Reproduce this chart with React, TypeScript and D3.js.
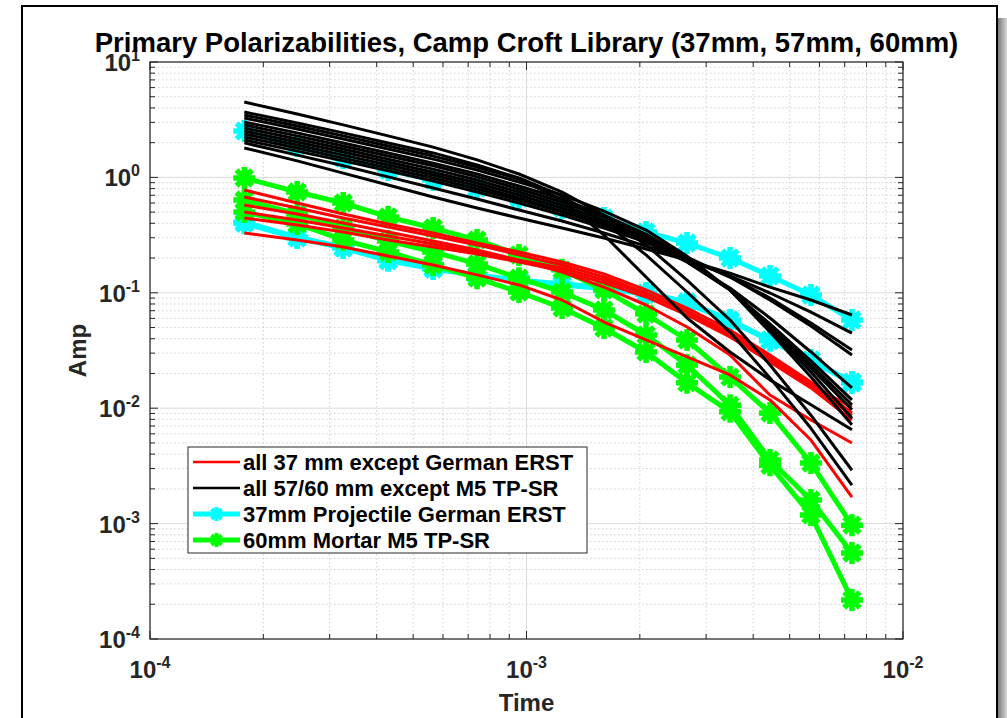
import React from 'react';
import * as d3 from 'd3';

// Time gates (s)
const timeGates = [1.78e-4, 2.46e-4, 3.26e-4, 4.29e-4, 5.65e-4, 7.39e-4, 9.55e-4, 1.243e-3, 1.606e-3, 2.077e-3, 2.669e-3, 3.472e-3, 4.433e-3, 5.695e-3, 7.318e-3];

// all 37 mm except German ERST (red)
const red37mm: number[][] = [
  [0.778, 0.600, 0.482, 0.395, 0.330, 0.270, 0.226, 0.185, 0.146, 0.106, 0.0738, 0.0476, 0.0289, 0.0169, 0.0091],
  [0.676, 0.543, 0.445, 0.372, 0.311, 0.260, 0.213, 0.174, 0.137, 0.0996, 0.0695, 0.0448, 0.0272, 0.0159, 0.0087],
  [0.501, 0.427, 0.364, 0.311, 0.265, 0.226, 0.192, 0.164, 0.129, 0.0976, 0.0682, 0.0431, 0.0262, 0.0159, 0.0102],
  [0.445, 0.387, 0.336, 0.287, 0.249, 0.217, 0.185, 0.155, 0.122, 0.092, 0.0642, 0.0414, 0.0251, 0.0150, 0.0079],
  [0.576, 0.482, 0.403, 0.336, 0.281, 0.235, 0.192, 0.151, 0.112, 0.0784, 0.0505, 0.0289, 0.013, 0.0079, 0.005],
  [0.330, 0.287, 0.249, 0.208, 0.174, 0.143, 0.117, 0.0866, 0.0558, 0.039, 0.0278, 0.0194, 0.0118, 0.0053, 0.0017],
];

// all 57/60 mm except M5 TP-SR (black)
const black5760mm: number[][] = [
  [4.50, 3.54, 2.85, 2.29, 1.83, 1.42, 1.07, 0.747, 0.472, 0.260, 0.129, 0.0581, 0.0237, 0.0087, 0.0029],
  [3.69, 2.96, 2.43, 1.99, 1.63, 1.28, 0.988, 0.690, 0.411, 0.213, 0.1016, 0.0457, 0.0183, 0.0067, 0.00216],
  [3.47, 2.79, 2.29, 1.87, 1.53, 1.23, 0.969, 0.637, 0.317, 0.137, 0.0605, 0.0307, 0.0176, 0.0107, 0.0065],
  [3.27, 2.63, 2.15, 1.76, 1.44, 1.16, 0.912, 0.704, 0.511, 0.350, 0.208, 0.106, 0.0457, 0.0186, 0.0072],
  [3.02, 2.43, 1.99, 1.63, 1.33, 1.07, 0.842, 0.650, 0.472, 0.323, 0.200, 0.106, 0.0476, 0.0206, 0.0082],
  [2.85, 2.29, 1.87, 1.53, 1.26, 1.01, 0.793, 0.612, 0.454, 0.311, 0.192, 0.106, 0.0495, 0.0223, 0.0097],
  [2.68, 2.15, 1.76, 1.44, 1.18, 0.949, 0.747, 0.576, 0.427, 0.298, 0.189, 0.106, 0.0516, 0.0237, 0.0107],
  [2.52, 2.03, 1.66, 1.36, 1.11, 0.894, 0.704, 0.543, 0.403, 0.287, 0.185, 0.106, 0.0537, 0.0257, 0.0118],
  [2.38, 1.91, 1.56, 1.28, 1.05, 0.842, 0.663, 0.511, 0.387, 0.275, 0.185, 0.110, 0.0605, 0.0307, 0.0150],
  [2.24, 1.80, 1.47, 1.21, 0.988, 0.793, 0.637, 0.501, 0.387, 0.287, 0.204, 0.137, 0.0866, 0.0516, 0.0289],
  [2.11, 1.69, 1.39, 1.14, 0.931, 0.747, 0.600, 0.472, 0.364, 0.275, 0.200, 0.137, 0.0902, 0.0547, 0.0319],
  [1.99, 1.56, 1.26, 1.01, 0.809, 0.650, 0.522, 0.419, 0.330, 0.254, 0.192, 0.140, 0.0996, 0.068, 0.0448],
  [1.80, 1.39, 1.09, 0.859, 0.676, 0.543, 0.445, 0.364, 0.298, 0.240, 0.192, 0.148, 0.112, 0.0866, 0.0642],
];

// 37mm Projectile German ERST (cyan)
const cyanERST: number[][] = [
  [2.52, 1.87, 1.47, 1.16, 0.95, 0.81, 0.663, 0.543, 0.445, 0.336, 0.27, 0.2, 0.14, 0.0957, 0.0581],
  [0.411, 0.304, 0.249, 0.192, 0.164, 0.143, 0.129, 0.119, 0.112, 0.0996, 0.0832, 0.0581, 0.039, 0.0262, 0.0169],
  [0.40, 0.298, 0.244, 0.19, 0.161, 0.141, 0.127, 0.117, 0.109, 0.097, 0.081, 0.057, 0.0385, 0.0258, 0.0165],
];

// 60mm Mortar M5 TP-SR (green)
const greenM5: number[][] = [
  [0.99, 0.747, 0.60, 0.454, 0.364, 0.287, 0.213, 0.158, 0.106, 0.0655, 0.039, 0.0186, 0.0091, 0.00335, 0.00097],
  [0.637, 0.482, 0.364, 0.281, 0.226, 0.178, 0.134, 0.1016, 0.071, 0.0431, 0.0237, 0.0106, 0.00356, 0.0016, 0.000556],
  [0.501, 0.395, 0.287, 0.226, 0.174, 0.134, 0.1016, 0.0738, 0.0495, 0.0307, 0.0166, 0.0093, 0.0032, 0.00119, 0.000218],
];

const legendLabels = [
  'all 37 mm except German ERST',
  'all 57/60 mm except M5 TP-SR',
  '37mm Projectile German ERST',
  '60mm Mortar M5 TP-SR',
];
const titleText = 'Primary Polarizabilities, Camp Croft Library (37mm, 57mm, 60mm)';

const FONT = 'Arial, "Liberation Sans", Helvetica, sans-serif';
const AX = '#262626';

function starPath(r: number) {
  const a = r * 0.7071;
  return `M0,${-r}L0,${r}M${-r},0L${r},0M${-a},${-a}L${a},${a}M${-a},${a}L${a},${-a}`;
}

function expLabel(v: number) {
  return String(Math.round(Math.log10(v)));
}

export default function App() {
  const L = 150, R = 903, T = 62, B = 639;
  const x = d3.scaleLog().domain([1e-4, 1e-2]).range([L, R]);
  const y = d3.scaleLog().domain([1e-4, 10]).range([B, T]);
  const line = d3.line<number>().x((_, i) => x(timeGates[i])).y((d) => y(d));

  const xTicks = x.ticks();
  const yTicks = y.ticks();
  const isMajor = (v: number) => Math.abs(Math.log10(v) - Math.round(Math.log10(v))) < 1e-6;

  const star = starPath(11);
  const starLeg = starPath(7);

  const legendX = 188, legendY = 447, legendW = 399, legendH = 106;
  const rowY = [462, 488, 514, 540];
  const legendStyles = [
    { color: '#ff0000', w: 2.5, marker: false },
    { color: '#000000', w: 2.5, marker: false },
    { color: '#00ffff', w: 5, marker: true },
    { color: '#00ff00', w: 5, marker: true },
  ];

  return (
    <svg width={1007} height={718} style={{ position: 'absolute', left: 0, top: 0, background: '#fff' }} fontFamily={FONT}>
      <defs>
        <linearGradient id="shadow" x1="0" x2="1" y1="0" y2="0">
          <stop offset="0" stopColor="#7a7a7a" />
          <stop offset="1" stopColor="#d8d8d8" />
        </linearGradient>
        <clipPath id="plotClip">
          <rect x={L} y={T} width={R - L} height={B - T} />
        </clipPath>
      </defs>
      <rect x={0} y={0} width={1007} height={718} fill="#fff" />
      <rect x={998} y={18} width={9} height={700} fill="url(#shadow)" />
      <rect x={22} y={6} width={975} height={730} fill="#fff" stroke="#000" strokeWidth={2} />

      {/* grid */}
      <g>
        {xTicks.map((v, i) => (
          <line key={'gx' + i} x1={x(v)} x2={x(v)} y1={T} y2={B}
            stroke={isMajor(v) ? '#dcdcdc' : '#cfcfcf'} strokeWidth={1}
            strokeDasharray={isMajor(v) ? undefined : '1.5,2.5'} />
        ))}
        {yTicks.map((v, i) => (
          <line key={'gy' + i} x1={L} x2={R} y1={y(v)} y2={y(v)}
            stroke={isMajor(v) ? '#dcdcdc' : '#cfcfcf'} strokeWidth={1}
            strokeDasharray={isMajor(v) ? undefined : '1.5,2.5'} />
        ))}
      </g>

      {/* data */}
      <g clipPath="url(#plotClip)">
        {cyanERST.map((s, i) => (
          <g key={'c' + i}>
            <path d={line(s) || ''} fill="none" stroke="#00ffff" strokeWidth={5} strokeLinejoin="round" />
            {s.map((v, j) => (
              <path key={j} d={star} transform={`translate(${x(timeGates[j])},${y(v)})`} stroke="#00ffff" strokeWidth={5.5} fill="none" />
            ))}
          </g>
        ))}
        {greenM5.map((s, i) => (
          <g key={'g' + i}>
            <path d={line(s) || ''} fill="none" stroke="#00ff00" strokeWidth={5} strokeLinejoin="round" />
            {s.map((v, j) => (
              <path key={j} d={star} transform={`translate(${x(timeGates[j])},${y(v)})`} stroke="#00ff00" strokeWidth={5.5} fill="none" />
            ))}
          </g>
        ))}
        {red37mm.map((s, i) => (
          <path key={'r' + i} d={line(s) || ''} fill="none" stroke="#ff0000" strokeWidth={3} strokeLinejoin="round" />
        ))}
        {black5760mm.map((s, i) => (
          <path key={'b' + i} d={line(s) || ''} fill="none" stroke="#000000" strokeWidth={3} strokeLinejoin="round" />
        ))}
      </g>

      {/* ticks */}
      <g stroke={AX} strokeWidth={1}>
        {xTicks.map((v, i) => {
          const len = isMajor(v) ? 8 : 5;
          return (
            <g key={'tx' + i}>
              <line x1={x(v)} x2={x(v)} y1={B} y2={B - len} />
              <line x1={x(v)} x2={x(v)} y1={T} y2={T + len} />
            </g>
          );
        })}
        {yTicks.map((v, i) => {
          const len = isMajor(v) ? 8 : 5;
          return (
            <g key={'ty' + i}>
              <line x1={L} x2={L + len} y1={y(v)} y2={y(v)} />
              <line x1={R} x2={R - len} y1={y(v)} y2={y(v)} />
            </g>
          );
        })}
      </g>
      <rect x={L} y={T} width={R - L} height={B - T} fill="none" stroke={AX} strokeWidth={1.2} />

      {/* tick labels */}
      <g fill={AX} fontWeight="bold">
        {xTicks.filter(isMajor).map((v, i) => (
          <text key={'lx' + i} x={x(v)} y={678} textAnchor="middle" fontSize={24}>
            10<tspan dy={-10} fontSize={16}>{expLabel(v)}</tspan>
          </text>
        ))}
        {yTicks.filter(isMajor).map((v, i) => (
          <text key={'ly' + i} x={140} y={y(v) + 9} textAnchor="end" fontSize={24}>
            10<tspan dy={-10} fontSize={16}>{expLabel(v)}</tspan>
          </text>
        ))}
      </g>

      {/* axis labels */}
      <text x={(L + R) / 2} y={711} textAnchor="middle" fontSize={24} fontWeight="bold" fill={AX}>Time</text>
      <text transform={`translate(86,${(T + B) / 2}) rotate(-90)`} textAnchor="middle" fontSize={24} fontWeight="bold" fill={AX}>Amp</text>

      {/* title */}
      <text x={(L + R) / 2} y={52} textAnchor="middle" fontSize={27.5} fontWeight="bold" fill="#000">{titleText}</text>

      {/* legend */}
      <g>
        <rect x={legendX} y={legendY} width={legendW} height={legendH} fill="#fff" stroke={AX} strokeWidth={1} />
        {legendLabels.map((lab, i) => {
          const st = legendStyles[i];
          return (
            <g key={'lg' + i}>
              <line x1={193} x2={240} y1={rowY[i]} y2={rowY[i]} stroke={st.color} strokeWidth={st.w} />
              {st.marker && (
                <path d={starLeg} transform={`translate(216.5,${rowY[i]})`} stroke={st.color} strokeWidth={4} fill="none" />
              )}
              <text x={243} y={rowY[i] + 8} fontSize={22} fontWeight="bold" fill="#000">{lab}</text>
            </g>
          );
        })}
      </g>
    </svg>
  );
}
